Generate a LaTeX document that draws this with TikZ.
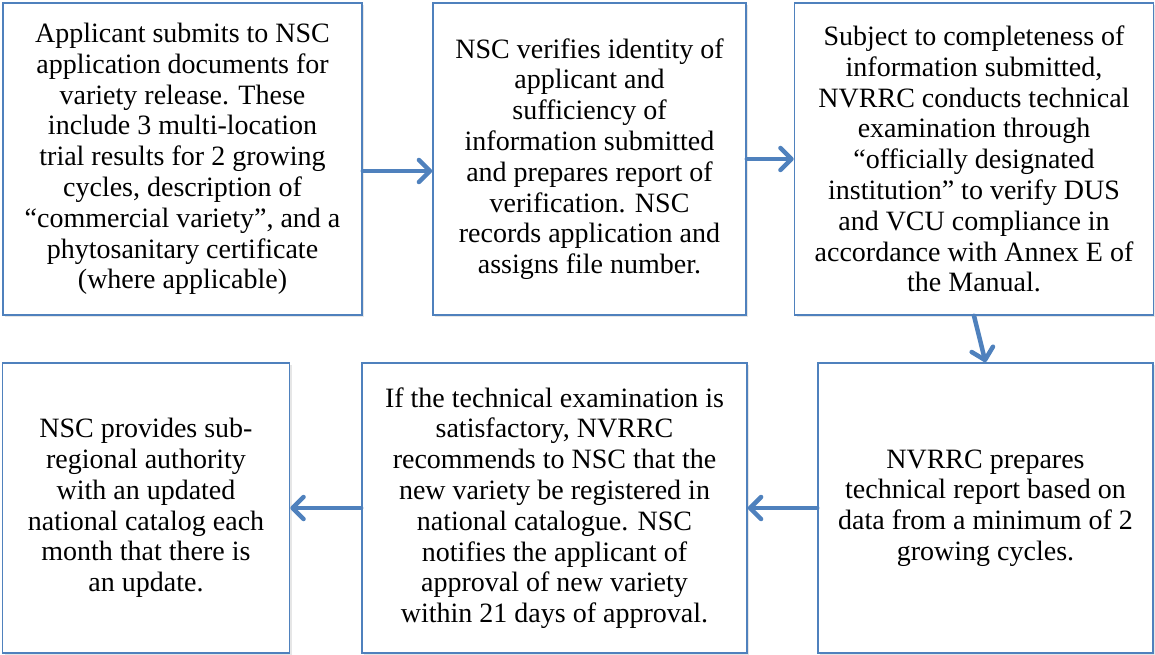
\documentclass[tikz,border=0pt]{standalone}
\usepackage{fontspec}
\setmainfont{Liberation Serif}
\usetikzlibrary{arrows.meta, positioning, shadows}
\definecolor{flowblue}{HTML}{4F81BD}

\begin{document}
\begin{tikzpicture}[x=1pt, y=-1pt, >={Straight Barb[round, length=11pt, width=22pt]}]
		\tikzstyle{stepbox}=[draw=flowblue, line width=1.6pt, fill=white, align=center, inner sep=0pt,
		  font=\fontsize{28}{30.8}\selectfont,
		  drop shadow={opacity=0.2, shadow xshift=2pt, shadow yshift=-2pt}]
		\tikzstyle{flow}=[->, draw=flowblue, line width=4.5pt, line cap=round]
		
		\useasboundingbox (0,0) rectangle (1155,655);
		
		% top row
		\node[stepbox, minimum width=359pt, minimum height=312pt] (submit) at (182.5,159)
		  {Applicant submits to NSC\\application documents for\\variety release. These\\include 3 multi-location\\trial results for 2 growing\\cycles, description of\\“commercial variety”, and a\\phytosanitary certificate\\(where applicable)};
		\node[stepbox, minimum width=313pt, minimum height=312pt] (verify) at (589.5,159)
		  {NSC verifies identity of\\applicant and\\sufficiency of\\information submitted\\and prepares report of\\verification. NSC\\records application and\\assigns file number.};
		\node[stepbox, minimum width=359pt, minimum height=312pt] (examine) at (974,159)
		  {Subject to completeness of\\information submitted,\\NVRRC conducts technical\\examination through\\“officially designated\\institution” to verify DUS\\and VCU compliance in\\accordance with Annex E of\\the Manual.};
		
		% bottom row
		\node[stepbox, minimum width=335pt, minimum height=290pt] (report) at (985.5,508)
		  {NVRRC prepares\\technical report based on\\data from a minimum of 2\\growing cycles.};
		\node[stepbox, minimum width=385pt, minimum height=290pt] (recommend) at (554.5,508)
		  {If the technical examination is\\satisfactory, NVRRC\\recommends to NSC that the\\new variety be registered in\\national catalogue. NSC\\notifies the applicant of\\approval of new variety\\within 21 days of approval.};
		\node[stepbox, minimum width=287pt, minimum height=290pt] (catalog) at (146,508)
		  {NSC provides sub-\\regional authority\\with an updated\\national catalog each\\month that there is\\an update.};
		
		\draw[flow] ([yshift=-12pt]submit.east) -- ([yshift=-12pt]verify.west);
		\draw[flow] (verify.east) -- (examine.west);
		\draw[flow] (examine.south) -- (report.north);
		\draw[flow] (report.west) -- (recommend.east);
		\draw[flow] (recommend.west) -- (catalog.east);
	\end{tikzpicture}
\end{document}
